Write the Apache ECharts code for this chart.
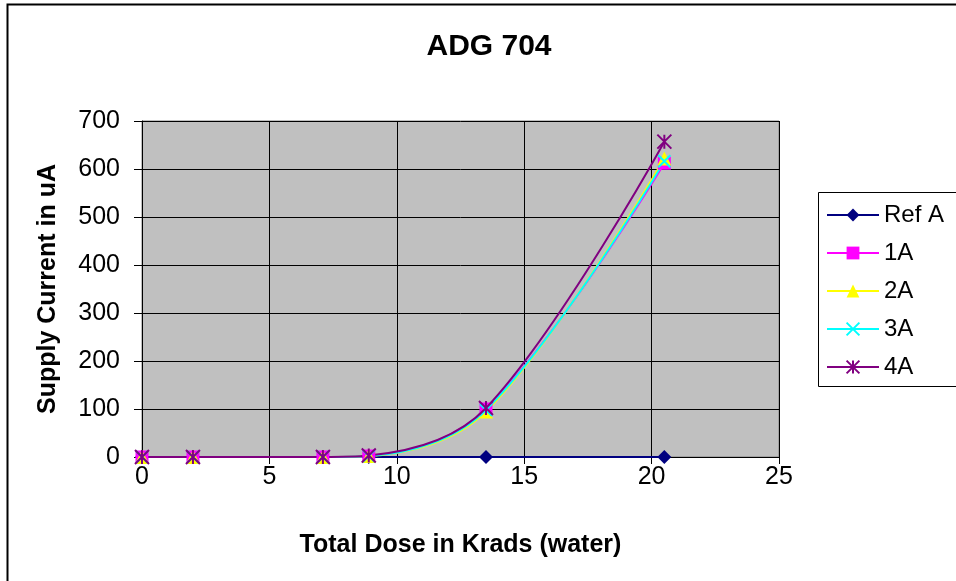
<!DOCTYPE html>
<html>
<head>
<meta charset="utf-8">
<script src="https://cdn.jsdelivr.net/npm/echarts@6/dist/echarts.min.js"></script>
<style>
html, body { margin: 0; padding: 0; background: #fff; }
#main { width: 956px; height: 581px; }
</style>
</head>
<body>
<div id="main"></div>
<script>
var dose = [0, 2, 7.1, 8.9, 13.5, 20.5];
var refA = [0, 0, 0, 0, 0, 0];
var s1A = [0, 0, 0, 2, 100, 612];
var s2A = [0, 0, 0, 2, 95, 622];
var s3A = [0, 0, 0, 2, 98, 616];
var s4A = [0, 0, 0, 3, 102, 657];
var names = ['Ref A', '1A', '2A', '3A', '4A'];
var colors = ['#000080', '#ff00ff', '#ffff00', '#00ffff', '#800080'];
var symbols = [
	'diamond',
	'rect',
	'triangle',
	'path://M0,0L10,10M10,0L0,10',
	'path://M0,0L10,10M10,0L0,10M5,0L5,10'
];
var sizes = [14, 13, 14, 12, 14];

function pairs(ys) {
	return dose.map(function (x, i) { return [x, ys[i]]; });
}

var myChart = echarts.init(document.getElementById('main'));
var allData = [refA, s1A, s2A, s3A, s4A];
var series = allData.map(function (ys, i) {
	var line = symbols[i].indexOf('path://') === 0;
	return {
		name: names[i],
		type: 'line',
		smooth: i === 0 ? false : 0.35,
		data: pairs(ys),
		symbol: symbols[i],
		symbolSize: sizes[i],
		lineStyle: { color: colors[i], width: 2 },
		itemStyle: line
			? { color: colors[i], borderColor: colors[i], borderWidth: 2 }
			: { color: colors[i], borderWidth: 0 }
	};
});

option = {
	animation: false,
	backgroundColor: '#fff',
	textStyle: { fontFamily: 'Liberation Sans, Arial, sans-serif' },
	title: {
		text: 'ADG 704',
		left: 484,
		textAlign: 'center',
		top: 27,
		textStyle: { fontSize: 30, fontWeight: 'bold', color: '#000' }
	},
	legend: {
		data: names,
		orient: 'vertical',
		left: 821,
		top: 198,
		itemWidth: 52,
		itemHeight: 16,
		itemGap: 14,
		textStyle: { fontSize: 24, lineHeight: 24, color: '#000', padding: [0, 0, 0, 0] }
	},
	grid: {
		left: 142,
		right: 177,
		top: 121,
		bottom: 124,
		show: true,
		backgroundColor: '#c0c0c0',
		borderColor: '#808080',
		borderWidth: 1
	},
	xAxis: {
		type: 'value',
		min: 0,
		max: 25,
		interval: 5,
		name: 'Total Dose in Krads (water)',
		nameLocation: 'middle',
		nameGap: 76,
		nameTextStyle: { fontSize: 25, fontWeight: 'bold', color: '#000' },
		axisLine: { onZero: false, lineStyle: { color: '#000', width: 1 } },
		axisTick: { show: true, length: 7, lineStyle: { color: '#000' } },
		axisLabel: { fontSize: 25, color: '#000', margin: 8 },
		splitLine: { show: true, lineStyle: { color: '#000', width: 1 } }
	},
	yAxis: {
		type: 'value',
		min: 0,
		max: 700,
		interval: 100,
		name: 'Supply Current in uA',
		nameLocation: 'middle',
		nameGap: 81,
		nameTextStyle: { fontSize: 25, fontWeight: 'bold', color: '#000' },
		axisLine: { show: true, lineStyle: { color: '#000', width: 1 } },
		axisTick: { show: true, length: 8, lineStyle: { color: '#000' } },
		axisLabel: { fontSize: 25, color: '#000', margin: 22 },
		splitLine: { show: true, lineStyle: { color: '#000', width: 1 } }
	},
	graphic: [
		{
			type: 'rect',
			shape: { x: 7.5, y: 4.5, width: 960, height: 590 },
			style: { fill: 'none', stroke: '#000', lineWidth: 2 },
			silent: true
		},
		{
			type: 'rect',
			shape: { x: 818.5, y: 192.5, width: 150, height: 194 },
			style: { fill: 'none', stroke: '#000', lineWidth: 1 },
			silent: true
		}
	],
	series: series
};
myChart.setOption(option);
</script>
</body>
</html>
